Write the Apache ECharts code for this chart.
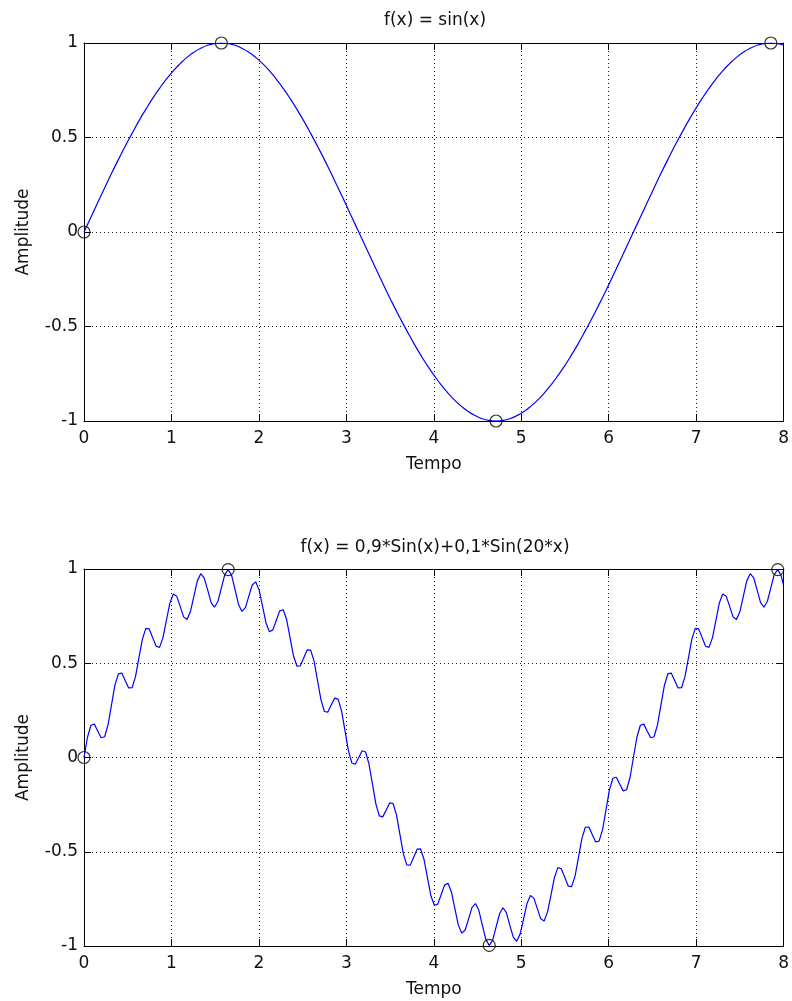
<!DOCTYPE html>
<html>
<head>
<meta charset="utf-8">
<title>f(x) = sin(x)</title>
<script src="https://cdn.jsdelivr.net/npm/echarts@6/dist/echarts.min.js"></script>
<style>
  html, body { margin: 0; padding: 0; background: #fff; }
  #chart { width: 792px; height: 1001px; }
</style>
</head>
<body>
<div id="chart"></div>
<script>
// instantes de tempo do primeiro grafico
const tempo1 = [
  0, 0.079, 0.157, 0.236, 0.314, 0.393, 0.471, 0.550, 0.628, 0.707, 0.785,
  0.864, 0.942, 1.021, 1.100, 1.178, 1.257, 1.335, 1.414, 1.492, 1.571,
  1.649, 1.728, 1.806, 1.885, 1.963, 2.042, 2.121, 2.199, 2.278, 2.356,
  2.435, 2.513, 2.592, 2.670, 2.749, 2.827, 2.906, 2.985, 3.063, 3.142,
  3.220, 3.299, 3.377, 3.456, 3.534, 3.613, 3.691, 3.770, 3.848, 3.927,
  4.006, 4.084, 4.163, 4.241, 4.320, 4.398, 4.477, 4.555, 4.634, 4.712,
  4.791, 4.869, 4.948, 5.027, 5.105, 5.184, 5.262, 5.341, 5.419, 5.498,
  5.576, 5.655, 5.733, 5.812, 5.890, 5.969, 6.048, 6.126, 6.205, 6.283,
  6.362, 6.440, 6.519, 6.597, 6.676, 6.754, 6.833, 6.912, 6.990, 7.069,
  7.147, 7.226, 7.304, 7.383, 7.461, 7.540, 7.618, 7.697, 7.775, 7.854,
  7.933, 8
]

// f(x) = sin(x)
const seno = [
  0, 0.078, 0.156, 0.233, 0.309, 0.383, 0.454, 0.522, 0.588, 0.649, 0.707,
  0.760, 0.809, 0.853, 0.891, 0.924, 0.951, 0.972, 0.988, 0.997, 1,
  0.997, 0.988, 0.972, 0.951, 0.924, 0.891, 0.853, 0.809, 0.760, 0.707,
  0.649, 0.588, 0.522, 0.454, 0.383, 0.309, 0.233, 0.156, 0.078, 0,
  -0.078, -0.156, -0.233, -0.309, -0.383, -0.454, -0.522, -0.588, -0.649, -0.707,
  -0.760, -0.809, -0.853, -0.891, -0.924, -0.951, -0.972, -0.988, -0.997, -1,
  -0.997, -0.988, -0.972, -0.951, -0.924, -0.891, -0.853, -0.809, -0.760, -0.707,
  -0.649, -0.588, -0.522, -0.454, -0.383, -0.309, -0.233, -0.156, -0.078, 0,
  0.078, 0.156, 0.233, 0.309, 0.383, 0.454, 0.522, 0.588, 0.649, 0.707,
  0.760, 0.809, 0.853, 0.891, 0.924, 0.951, 0.972, 0.988, 0.997, 1,
  0.997, 0.989
]

// instantes de tempo do segundo grafico
const tempo2 = [
  0, 0.039, 0.079, 0.118, 0.157, 0.196, 0.236, 0.275, 0.314, 0.353,
  0.393, 0.432, 0.471, 0.511, 0.550, 0.589, 0.628, 0.668, 0.707, 0.746,
  0.785, 0.825, 0.864, 0.903, 0.942, 0.982, 1.021, 1.060, 1.100, 1.139,
  1.178, 1.217, 1.257, 1.296, 1.335, 1.374, 1.414, 1.453, 1.492, 1.532,
  1.571, 1.610, 1.649, 1.689, 1.728, 1.767, 1.806, 1.846, 1.885, 1.924,
  1.963, 2.003, 2.042, 2.081, 2.121, 2.160, 2.199, 2.238, 2.278, 2.317,
  2.356, 2.395, 2.435, 2.474, 2.513, 2.553, 2.592, 2.631, 2.670, 2.710,
  2.749, 2.788, 2.827, 2.867, 2.906, 2.945, 2.985, 3.024, 3.063, 3.102,
  3.142, 3.181, 3.220, 3.259, 3.299, 3.338, 3.377, 3.416, 3.456, 3.495,
  3.534, 3.574, 3.613, 3.652, 3.691, 3.731, 3.770, 3.809, 3.848, 3.888,
  3.927, 3.966, 4.006, 4.045, 4.084, 4.123, 4.163, 4.202, 4.241, 4.280,
  4.320, 4.359, 4.398, 4.437, 4.477, 4.516, 4.555, 4.595, 4.634, 4.673,
  4.712, 4.752, 4.791, 4.830, 4.869, 4.909, 4.948, 4.987, 5.027, 5.066,
  5.105, 5.144, 5.184, 5.223, 5.262, 5.301, 5.341, 5.380, 5.419, 5.458,
  5.498, 5.537, 5.576, 5.616, 5.655, 5.694, 5.733, 5.773, 5.812, 5.851,
  5.890, 5.930, 5.969, 6.008, 6.048, 6.087, 6.126, 6.165, 6.205, 6.244,
  6.283, 6.322, 6.362, 6.401, 6.440, 6.480, 6.519, 6.558, 6.597, 6.637,
  6.676, 6.715, 6.754, 6.794, 6.833, 6.872, 6.912, 6.951, 6.990, 7.029,
  7.069, 7.108, 7.147, 7.187, 7.226, 7.265, 7.304, 7.344, 7.383, 7.422,
  7.461, 7.501, 7.540, 7.579, 7.618, 7.658, 7.697, 7.736, 7.775, 7.815,
  7.854, 7.893, 7.933, 7.972, 8
]

// f(x) = 0,9*Sin(x)+0,1*Sin(20*x)
const senoComposto = [
  0, 0.106, 0.171, 0.177, 0.141, 0.105, 0.110, 0.173, 0.278, 0.383,
  0.444, 0.448, 0.409, 0.369, 0.370, 0.429, 0.529, 0.628, 0.685, 0.682,
  0.636, 0.590, 0.584, 0.636, 0.728, 0.819, 0.867, 0.856, 0.802, 0.746,
  0.732, 0.774, 0.856, 0.937, 0.975, 0.953, 0.889, 0.823, 0.797, 0.829,
  0.900, 0.970, 0.997, 0.965, 0.889, 0.812, 0.775, 0.795, 0.856, 0.915,
  0.932, 0.888, 0.802, 0.714, 0.667, 0.677, 0.728, 0.778, 0.784, 0.732,
  0.636, 0.540, 0.485, 0.486, 0.529, 0.571, 0.570, 0.511, 0.409, 0.306,
  0.244, 0.241, 0.278, 0.315, 0.310, 0.247, 0.141, 0.035, -0.029, -0.036,
  0, 0.036, 0.029, -0.035, -0.141, -0.247, -0.310, -0.315, -0.278, -0.241,
  -0.244, -0.306, -0.409, -0.511, -0.570, -0.571, -0.529, -0.486, -0.485, -0.540,
  -0.636, -0.732, -0.784, -0.778, -0.728, -0.677, -0.667, -0.714, -0.802, -0.888,
  -0.932, -0.915, -0.856, -0.795, -0.775, -0.812, -0.889, -0.965, -0.997, -0.970,
  -0.900, -0.829, -0.797, -0.823, -0.889, -0.953, -0.975, -0.937, -0.856, -0.774,
  -0.732, -0.746, -0.802, -0.856, -0.867, -0.819, -0.728, -0.636, -0.584, -0.590,
  -0.636, -0.682, -0.685, -0.628, -0.529, -0.429, -0.370, -0.369, -0.409, -0.448,
  -0.444, -0.383, -0.278, -0.173, -0.110, -0.105, -0.141, -0.177, -0.171, -0.106,
  0, 0.106, 0.171, 0.177, 0.141, 0.105, 0.110, 0.173, 0.278, 0.383,
  0.444, 0.448, 0.409, 0.369, 0.370, 0.429, 0.529, 0.628, 0.685, 0.682,
  0.636, 0.590, 0.584, 0.636, 0.728, 0.819, 0.867, 0.856, 0.802, 0.746,
  0.732, 0.774, 0.856, 0.937, 0.975, 0.953, 0.889, 0.823, 0.797, 0.829,
  0.900, 0.970, 0.997, 0.965, 0.912
]

// pontos marcados com 'o'
const marcasTempo1 = [0, 1.571, 4.712, 7.854]
const marcasValor1 = [0, 1, -1, 1]
const marcasTempo2 = [0, 1.649, 4.634, 7.933]
const marcasValor2 = [0, 0.997, -0.997, 0.997]

const titulos = ['f(x) = sin(x)', 'f(x) = 0,9*Sin(x)+0,1*Sin(20*x)']
const nomeX = 'Tempo'
const nomeY = 'Amplitude'

const fonte = 'DejaVu Sans'
const corTexto = '#111'
const grade = { color: '#1a1a1a', width: 1, type: [1, 3] }

const chart = echarts.init(document.getElementById('chart'), null, { renderer: 'canvas' })

const eixoX = function (gridIndex, principal) {
  return {
    type: 'value',
    gridIndex: gridIndex,
    position: principal ? 'bottom' : 'top',
    min: 0,
    max: 8,
    interval: 1,
    name: principal ? nomeX : '',
    nameLocation: 'middle',
    nameGap: 35,
    nameTextStyle: { fontFamily: fonte, fontSize: 17, color: corTexto },
    axisLine: { show: true, onZero: false, lineStyle: { color: '#000', width: 1 } },
    axisTick: { show: true, inside: true, length: 7, lineStyle: { color: '#000' } },
    axisLabel: { show: principal, margin: 9, fontFamily: fonte, fontSize: 17, color: corTexto },
    splitLine: { show: principal, lineStyle: grade }
  }
}

const eixoY = function (gridIndex, principal) {
  return {
    type: 'value',
    gridIndex: gridIndex,
    position: principal ? 'left' : 'right',
    min: -1,
    max: 1,
    interval: 0.5,
    name: principal ? nomeY : '',
    nameLocation: 'middle',
    nameRotate: 90,
    nameGap: 52,
    nameTextStyle: { fontFamily: fonte, fontSize: 17, color: corTexto },
    axisLine: { show: true, onZero: false, lineStyle: { color: '#000', width: 1 } },
    axisTick: { show: true, inside: true, length: 7, lineStyle: { color: '#000' } },
    axisLabel: { show: principal, margin: 6, fontFamily: fonte, fontSize: 17, color: corTexto },
    splitLine: { show: principal, lineStyle: grade }
  }
}

// linha continua; suave so quando as amostras sao poucas
const curva = function (nome, xs, ys, eixo, suave) {
  return {
    name: nome,
    type: 'line',
    xAxisIndex: eixo,
    yAxisIndex: eixo,
    data: xs.map((t, i) => [t, ys[i]]),
    showSymbol: false,
    smooth: suave,
    lineStyle: { color: '#0000ff', width: 1.2 },
    z: 3
  }
}

const marcas = function (nome, xs, ys, eixo) {
  return {
    name: nome,
    type: 'scatter',
    xAxisIndex: eixo,
    yAxisIndex: eixo,
    data: xs.map((t, i) => [t, ys[i]]),
    symbol: 'circle',
    symbolSize: 12,
    clip: false,
    itemStyle: { color: 'rgba(0,0,0,0)', borderColor: '#000', borderWidth: 1.2 },
    z: 4
  }
}

const option = {
  animation: false,
  backgroundColor: '#fff',
  title: [
    {
      text: titulos[0], left: 435, top: 12, padding: 0, textAlign: 'center',
      textStyle: { fontFamily: fonte, fontSize: 17, fontWeight: 'normal', color: corTexto }
    },
    {
      text: titulos[1], left: 435, top: 539, padding: 0, textAlign: 'center',
      textStyle: { fontFamily: fonte, fontSize: 17, fontWeight: 'normal', color: corTexto }
    }
  ],
  grid: [
    { left: 84, top: 43, width: 703, height: 378 },
    { left: 84, top: 569, width: 703, height: 377 }
  ],
  xAxis: [eixoX(0, true), eixoX(0, false), eixoX(1, true), eixoX(1, false)],
  yAxis: [eixoY(0, true), eixoY(0, false), eixoY(1, true), eixoY(1, false)],
  series: [
    curva(titulos[0], tempo1, seno, 0, true),
    marcas('marcas1', marcasTempo1, marcasValor1, 0),
    curva(titulos[1], tempo2, senoComposto, 2, false),
    marcas('marcas2', marcasTempo2, marcasValor2, 2)
  ]
}

chart.setOption(option)
</script>
</body>
</html>
